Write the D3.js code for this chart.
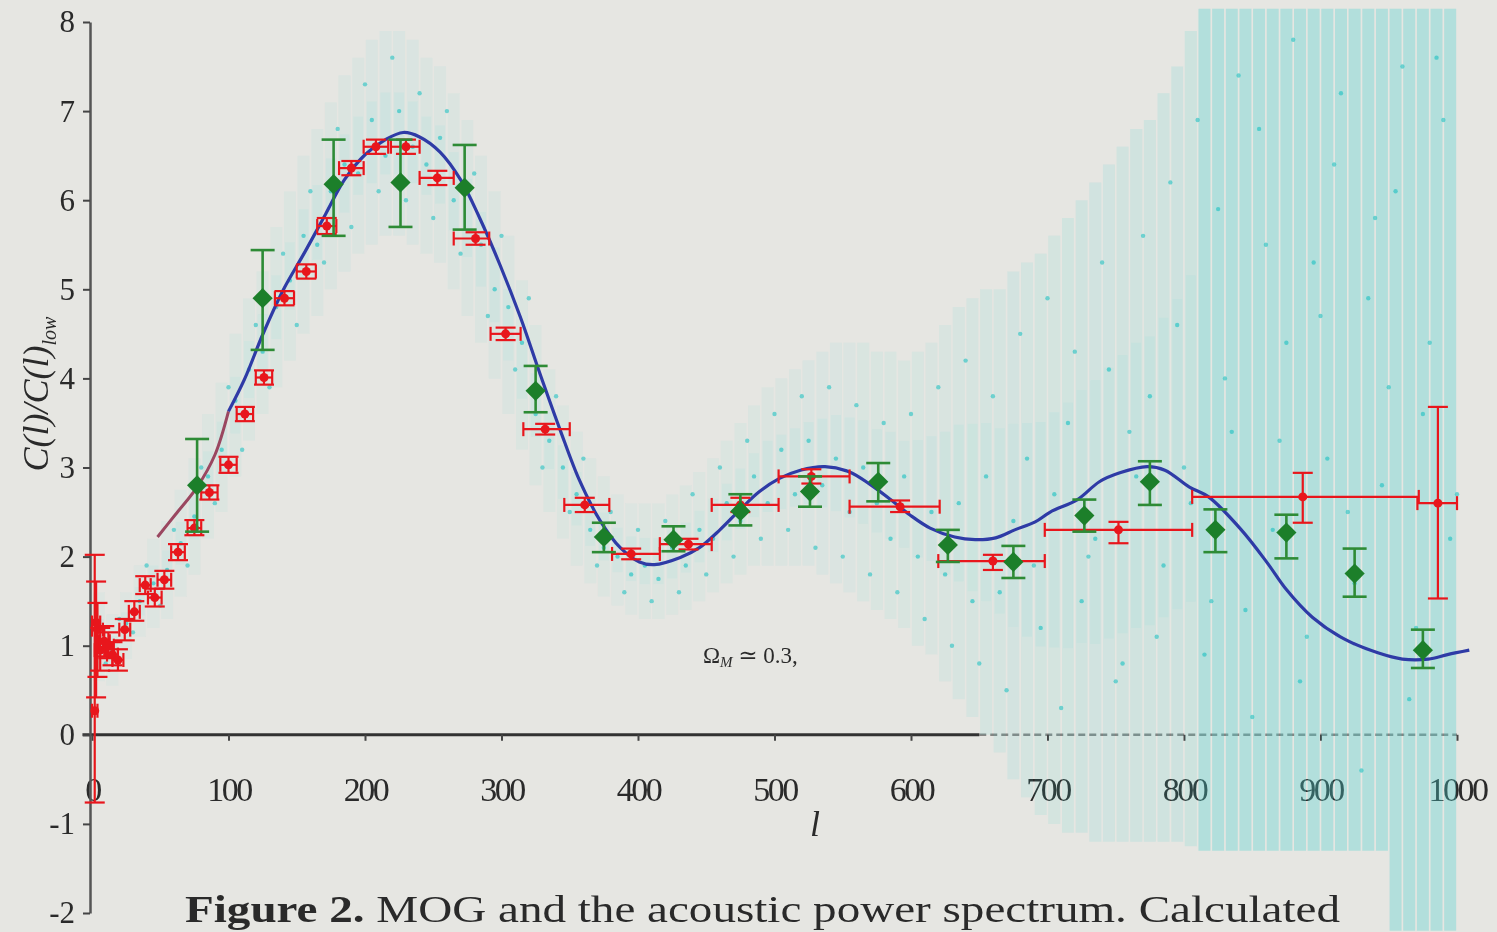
<!DOCTYPE html>
<html>
<head>
<meta charset="utf-8">
<script src="https://cdn.jsdelivr.net/npm/d3@7"></script>
<style>
  body { margin: 0; background: #e6e6e2; }
  text { font-family: "Liberation Serif", "DejaVu Serif", serif; fill: #2a2a2a; }
</style>
</head>
<body>
<div id="chart"></div>
<script>
// power spectrum figure: cyan unbinned points, red binned points, green diamonds, model curve

var cyanL = [5,15,25,35,45,55,65,75,85,95,105,115,125,135,145,155,165,175,185,195,
             205,215,225,235,245,255,265,275,285,295,305,315,325,335,345,355,365,375,385,395,
             405,415,425,435,445,455,465,475,485,495,505,515,525,535,545,555,565,575,585,595,
             605,615,625,635,645,655,665,675,685,695,705,715,725,735,745,755,765,775,785,795,
             805,815,825,835,845,855,865,875,885,895,905,915,925,935,945,955,965,975,985,995];
var cyanV = [1.1,0.95,1.25,1.5,1.7,1.85,2.15,2.45,2.9,3.2,3.75,4.1,4.3,4.8,5.1,5.6,5.5,6.1,6.4,6.3,
             6.9,6.5,7.0,6.6,6.4,6.7,6.0,6.1,5.5,5.0,4.8,4.4,3.6,3.3,3.0,2.7,2.3,2.1,2.0,1.8,
             1.9,1.75,2.1,1.9,2.3,2.2,2.6,2.4,2.9,2.6,3.2,2.7,3.3,2.8,3.1,2.5,3.0,2.6,2.2,2.9,
             2.0,2.5,1.8,2.6,1.5,2.9,1.6,2.4,3.1,1.2,2.7,3.5,1.5,2.2,4.1,0.8,2.9,3.8,1.9,4.6,
             2.6,0.9,5.9,3.4,1.4,6.8,2.3,4.4,0.6,5.3,3.1,7.2,1.7,4.9,2.8,6.1,0.4,3.6,7.6,2.2];
var cyanW = [0.8,1.3,1.15,1.9,1.45,2.3,1.9,3.0,2.6,3.9,3.2,4.6,3.9,5.4,4.6,6.1,5.3,6.8,5.7,7.3,
             6.1,7.6,6.0,7.2,5.8,7.0,5.4,6.3,4.7,5.6,4.1,4.9,3.0,3.8,2.5,3.1,1.9,2.5,1.6,2.3,
             1.5,2.4,1.6,2.7,1.8,3.0,2.0,3.3,2.2,3.6,2.3,3.8,2.1,3.9,2.0,3.7,1.8,3.5,1.6,3.6,
             1.3,3.9,1.0,4.2,0.8,3.8,0.5,4.5,1.9,4.9,0.3,4.3,2.0,5.3,0.6,3.4,5.6,1.1,6.2,3.0,
             6.9,1.5,4.0,7.4,0.2,5.5,3.3,7.8,1.1,4.7,6.4,2.5,-0.4,5.8,3.9,7.5,1.2,4.4,6.9,2.7];
var cyanLo = [0.6,0.55,0.85,1.1,1.2,1.3,1.55,1.8,2.2,2.5,2.9,3.3,3.6,3.9,4.2,4.5,4.7,5.0,5.2,5.4,
              5.5,5.6,5.6,5.5,5.4,5.3,5.0,4.7,4.4,4.0,3.6,3.2,2.8,2.5,2.2,1.9,1.7,1.55,1.45,1.35,
              1.3,1.3,1.35,1.4,1.5,1.6,1.7,1.8,1.9,1.9,1.9,1.9,1.9,1.8,1.7,1.6,1.5,1.4,1.3,1.2,
              1.0,0.9,0.6,0.4,0.2,0.0,-0.2,-0.5,-0.7,-0.9,-1.0,-1.1,-1.1,-1.2,-1.2,-1.2,-1.2,-1.2,-1.2,-1.2,
              -1.25,-1.3,-1.3,-1.3,-1.3,-1.3,-1.3,-1.3,-1.3,-1.3,-1.3,-1.3,-1.3,-1.3,-1.3,-2.2,-2.2,-2.2,-2.2,-2.2];
var cyanHi = [1.6,1.35,1.6,1.9,2.2,2.4,2.75,3.1,3.6,3.95,4.5,4.9,5.2,5.7,6.1,6.5,6.8,7.1,7.4,7.6,
              7.8,7.9,7.9,7.8,7.6,7.5,7.2,6.9,6.5,6.1,5.6,5.1,4.6,4.1,3.7,3.4,3.1,2.9,2.7,2.6,
              2.6,2.6,2.7,2.8,2.95,3.1,3.3,3.5,3.7,3.9,4.0,4.1,4.2,4.3,4.4,4.4,4.4,4.3,4.3,4.2,
              4.3,4.4,4.6,4.8,4.9,5.0,5.0,5.2,5.3,5.4,5.6,5.8,6.0,6.2,6.4,6.6,6.8,6.9,7.2,7.5,
              7.9,8.15,8.15,8.15,8.15,8.15,8.15,8.15,8.15,8.15,8.15,8.15,8.15,8.15,8.15,8.15,8.15,8.15,8.15,8.15];

var redL  = [2,3,4,6,9,12,15,19,24,31,39,46,53,63,75,86,100,112,126,141,157,172,190,208,230,253,281,303,332,361,395,437,475,527,592,660,752,887,986];
var redV  = [0.27,1.26,1.18,0.95,1.05,1.0,0.9,0.84,1.18,1.38,1.68,1.54,1.74,2.05,2.32,2.72,3.03,3.6,4.01,4.9,5.2,5.71,6.36,6.6,6.6,6.25,5.57,4.5,3.43,2.58,2.03,2.14,2.58,2.9,2.56,1.95,2.3,2.67,2.6];
var redLo = [-0.76,0.42,0.65,0.72,0.88,0.86,0.78,0.72,1.06,1.28,1.58,1.44,1.64,1.96,2.24,2.64,2.94,3.52,3.93,4.82,5.12,5.62,6.28,6.52,6.52,6.17,5.5,4.43,3.37,2.5,1.97,2.08,2.5,2.82,2.5,1.85,2.15,2.38,1.53];
var redHi = [2.02,1.72,1.48,1.2,1.22,1.15,1.04,0.96,1.3,1.5,1.78,1.64,1.84,2.14,2.41,2.8,3.12,3.68,4.09,4.98,5.28,5.8,6.44,6.68,6.68,6.33,5.64,4.57,3.49,2.66,2.09,2.2,2.66,2.98,2.63,2.02,2.39,2.94,3.68];
var redL0 = [0,0,0,2,5,8,11,15,20,27,35,41,48,58,70,80,94,106,120,134,150,165,181,199,219,240,265,292,316,346,381,416,454,503,555,620,698,806,971];
var redL1 = [4,6,8,10,13,16,19,23,28,35,43,51,58,68,80,92,106,118,132,148,164,179,199,217,240,265,291,314,350,379,416,454,503,555,621,698,806,972,1000];

var greenL  = [77,125,177,226,273,325,375,426,475,526,576,627,675,727,775,823,875,925,975];
var greenV  = [2.8,4.9,6.18,6.2,6.14,3.86,2.22,2.19,2.51,2.73,2.84,2.13,1.94,2.46,2.84,2.3,2.27,1.81,0.95];
var greenLo = [2.28,4.32,5.6,5.7,5.67,3.62,2.05,2.06,2.35,2.56,2.62,1.94,1.76,2.28,2.58,2.05,1.98,1.55,0.75];
var greenHi = [3.32,5.44,6.68,6.68,6.62,4.14,2.38,2.34,2.7,2.9,3.05,2.3,2.12,2.64,3.07,2.53,2.47,2.09,1.18];

var modelL = [48,61,77,90,100,112,125,140,156,171,185,200,215,228,240,255,270,284,299,314,328,343,357,372,387,401,412,431,445,460,475,489,504,519,537,555,570,585,599,614,632,647,662,676,691,702,722,738,753,773,786,804,818,842,861,875,894,918,942,960,979,993,1009];
var modelV = [2.22,2.47,2.78,3.14,3.63,4.0,4.49,4.99,5.42,5.84,6.23,6.51,6.68,6.76,6.71,6.54,6.23,5.8,5.27,4.68,4.06,3.42,2.86,2.41,2.1,1.94,1.91,1.99,2.1,2.3,2.53,2.73,2.88,2.97,3.01,2.95,2.81,2.64,2.47,2.32,2.22,2.19,2.21,2.3,2.39,2.5,2.64,2.84,2.94,3.01,2.97,2.78,2.67,2.3,1.93,1.63,1.32,1.07,0.92,0.85,0.85,0.9,0.95];

var xTicks = [0,100,200,300,400,500,600,700,800,900,1000];
var yTicks = [-2,-1,0,1,2,3,4,5,6,7,8];

(function () {
    var width = 1497,
        height = 932;

    var svg = d3.select('#chart')
                .append('svg')
                .attr('width', width)
                .attr('height', height);

    svg.append('rect')
        .attr('width', width)
        .attr('height', height)
        .attr('fill', '#e6e6e2');

    // slight softness like the photographed slide
    svg.append('defs').append('filter')
        .attr('id', 'soft')
        .append('feGaussianBlur')
        .attr('stdDeviation', 0.6);

    var g = svg.append('g').attr('filter', 'url(#soft)');

    var xScale = d3.scaleLinear().domain([0, 1000]).range([92, 1457]);
    var yScale = d3.scaleLinear().domain([-2, 8]).range([913, 22]);

    // zero line, fades where the cyan bars sit on it
    g.append('line')
        .attr('x1', xScale(-7)).attr('x2', xScale(650))
        .attr('y1', yScale(0)).attr('y2', yScale(0))
        .attr('stroke', '#333').attr('stroke-width', 3);
    g.append('line')
        .attr('x1', xScale(650)).attr('x2', xScale(1000))
        .attr('y1', yScale(0)).attr('y2', yScale(0))
        .attr('stroke', '#444').attr('stroke-width', 2.5)
        .attr('stroke-dasharray', '7,4').attr('opacity', 0.6);

    // x axis ticks and labels
    var xAxis = g.append('g')
        .attr('transform', 'translate(0,' + yScale(0) + ')')
        .call(d3.axisBottom(xScale).tickValues(xTicks).tickSize(6).tickPadding(36).tickSizeOuter(0)
              .tickFormat(function (d) { return String(d); }));
    xAxis.select('.domain').remove();
    xAxis.selectAll('line').attr('stroke', '#444').attr('stroke-width', 2);
    xAxis.selectAll('text')
        .style('font-size', '34px')
        .style('letter-spacing', '-2.5px')
        .attr('fill', '#2a2a2a');

    // y axis
    var yAxis = g.append('g')
        .attr('transform', 'translate(' + 90 + ',0)')
        .call(d3.axisLeft(yScale).tickValues(yTicks).tickSize(7).tickPadding(8).tickSizeOuter(0)
              .tickFormat(function (d) { return String(d); }));
    yAxis.select('.domain').attr('stroke', '#555').attr('stroke-width', 2.5);
    yAxis.selectAll('line').attr('stroke', '#444').attr('stroke-width', 2);
    yAxis.selectAll('text')
        .style('font-size', '31px')
        .attr('fill', '#2a2a2a');

    // cyan unbinned points and their error bars
    var cyan = d3.range(cyanL.length).map(function (i) {
        return { l: cyanL[i], v: cyanV[i], w: cyanW[i], lo: cyanLo[i], hi: cyanHi[i] };
    });

    g.selectAll('.cbar')
        .data(cyan)
        .enter()
        .append('line')
        .attr('x1', function (d) { return xScale(d.l); })
        .attr('x2', function (d) { return xScale(d.l); })
        .attr('y1', function (d) { return yScale(d.lo); })
        .attr('y2', function (d) { return yScale(d.hi); })
        .attr('stroke', '#4fd3cf')
        .attr('stroke-width', 12)
        .attr('opacity', function (d) {
            var span = d.hi - d.lo;
            return span > 9.3 ? 0.34 : 0.04 + 0.013 * span;
        });

    g.selectAll('.ccore')
        .data(cyan)
        .enter()
        .append('line')
        .attr('x1', function (d) { return xScale(d.l); })
        .attr('x2', function (d) { return xScale(d.l); })
        .attr('y1', function (d) { return yScale(d.lo + (d.hi - d.lo) * 0.3); })
        .attr('y2', function (d) { return yScale(d.hi - (d.hi - d.lo) * 0.3); })
        .attr('stroke', '#4fd3cf')
        .attr('stroke-width', 10)
        .attr('opacity', function (d) { return d.hi - d.lo > 9.3 ? 0 : 0.07; });

    g.selectAll('.cdot')
        .data(cyan)
        .enter()
        .append('circle')
        .attr('cx', function (d) { return xScale(d.l); })
        .attr('cy', function (d) { return yScale(d.v); })
        .attr('r', 2.2)
        .attr('fill', '#2fc4c4')
        .attr('opacity', 0.7);

    g.selectAll('.cdot2')
        .data(cyan)
        .enter()
        .append('circle')
        .attr('cx', function (d) { return xScale(d.l + 5); })
        .attr('cy', function (d) { return yScale(d.w); })
        .attr('r', 2.2)
        .attr('fill', '#2fc4c4')
        .attr('opacity', 0.65);

    // model curve: maroon start then blue
    var line = d3.line()
        .x(function (d) { return xScale(d[0]); })
        .y(function (d) { return yScale(d[1]); })
        .curve(d3.curveCatmullRom);

    var model = modelL.map(function (l, i) { return [l, modelV[i]]; });

    g.append('path')
        .datum(model.filter(function (d) { return d[0] <= 100; }))
        .attr('d', line)
        .attr('fill', 'none')
        .attr('stroke', '#9a4660')
        .attr('stroke-width', 3);

    g.append('path')
        .datum(model.filter(function (d) { return d[0] >= 100; }))
        .attr('d', line)
        .attr('fill', 'none')
        .attr('stroke', '#2f3aa6')
        .attr('stroke-width', 3.2);

    // red binned points
    var red = d3.range(redL.length).map(function (i) {
        return { l: redL[i], v: redV[i], lo: redLo[i], hi: redHi[i], l0: redL0[i], l1: redL1[i] };
    });
    var redCol = '#e8171c';
    var rg = g.append('g').attr('stroke', redCol).attr('stroke-width', 2.2);

    red.forEach(function (d) {
        var cx = xScale(d.l), cy = yScale(d.v);
        rg.append('line').attr('x1', xScale(d.l0)).attr('x2', xScale(d.l1)).attr('y1', cy).attr('y2', cy);
        rg.append('line').attr('x1', xScale(d.l0)).attr('x2', xScale(d.l0)).attr('y1', cy - 7).attr('y2', cy + 7);
        rg.append('line').attr('x1', xScale(d.l1)).attr('x2', xScale(d.l1)).attr('y1', cy - 7).attr('y2', cy + 7);
        rg.append('line').attr('x1', cx).attr('x2', cx).attr('y1', yScale(d.lo)).attr('y2', yScale(d.hi));
        rg.append('line').attr('x1', cx - 10).attr('x2', cx + 10).attr('y1', yScale(d.lo)).attr('y2', yScale(d.lo));
        rg.append('line').attr('x1', cx - 10).attr('x2', cx + 10).attr('y1', yScale(d.hi)).attr('y2', yScale(d.hi));
    });

    g.selectAll('.rdot')
        .data(red)
        .enter()
        .append('circle')
        .attr('cx', function (d) { return xScale(d.l); })
        .attr('cy', function (d) { return yScale(d.v); })
        .attr('r', 4.5)
        .attr('fill', redCol);

    // green diamonds
    var green = d3.range(greenL.length).map(function (i) {
        return { l: greenL[i], v: greenV[i], lo: greenLo[i], hi: greenHi[i] };
    });
    var gg = g.append('g').attr('stroke', '#2e8b36').attr('stroke-width', 2.6);
    green.forEach(function (d) {
        var cx = xScale(d.l);
        gg.append('line').attr('x1', cx).attr('x2', cx).attr('y1', yScale(d.lo)).attr('y2', yScale(d.hi));
        gg.append('line').attr('x1', cx - 12).attr('x2', cx + 12).attr('y1', yScale(d.lo)).attr('y2', yScale(d.lo));
        gg.append('line').attr('x1', cx - 12).attr('x2', cx + 12).attr('y1', yScale(d.hi)).attr('y2', yScale(d.hi));
    });

    g.selectAll('.gdot')
        .data(green)
        .enter()
        .append('path')
        .attr('d', d3.symbol().type(d3.symbolDiamond2).size(260))
        .attr('transform', function (d) { return 'translate(' + xScale(d.l) + ',' + yScale(d.v) + ')'; })
        .attr('fill', '#1f7f2a');

    // labels
    var ylab = g.append('text')
        .attr('transform', 'translate(48,394) rotate(-90)')
        .attr('text-anchor', 'middle')
        .style('font-size', '36px')
        .style('font-style', 'italic');
    ylab.append('tspan').text('C(l)/C(l)');
    ylab.append('tspan').attr('dy', 8).style('font-size', '20px').text('low');

    g.append('text')
        .attr('x', 815)
        .attr('y', 836)
        .attr('text-anchor', 'middle')
        .style('font-size', '36px')
        .style('font-style', 'italic')
        .text('l');

    var om = g.append('text')
        .attr('x', 703)
        .attr('y', 663)
        .style('font-size', '23px');
    om.append('tspan').text('Ω');
    om.append('tspan').attr('dy', 4).style('font-size', '15px').style('font-style', 'italic').text('M');
    om.append('tspan').attr('dy', -4).text(' ≃ 0.3,');

    var cap = g.append('text')
        .attr('x', 185)
        .attr('y', 922)
        .attr('textLength', 1155)
        .attr('lengthAdjust', 'spacingAndGlyphs')
        .style('font-size', '38px');
    cap.append('tspan').style('font-weight', 'bold').text('Figure 2.');
    cap.append('tspan').text(' MOG and the acoustic power spectrum. Calculated');
})();
</script>
</body>
</html>
